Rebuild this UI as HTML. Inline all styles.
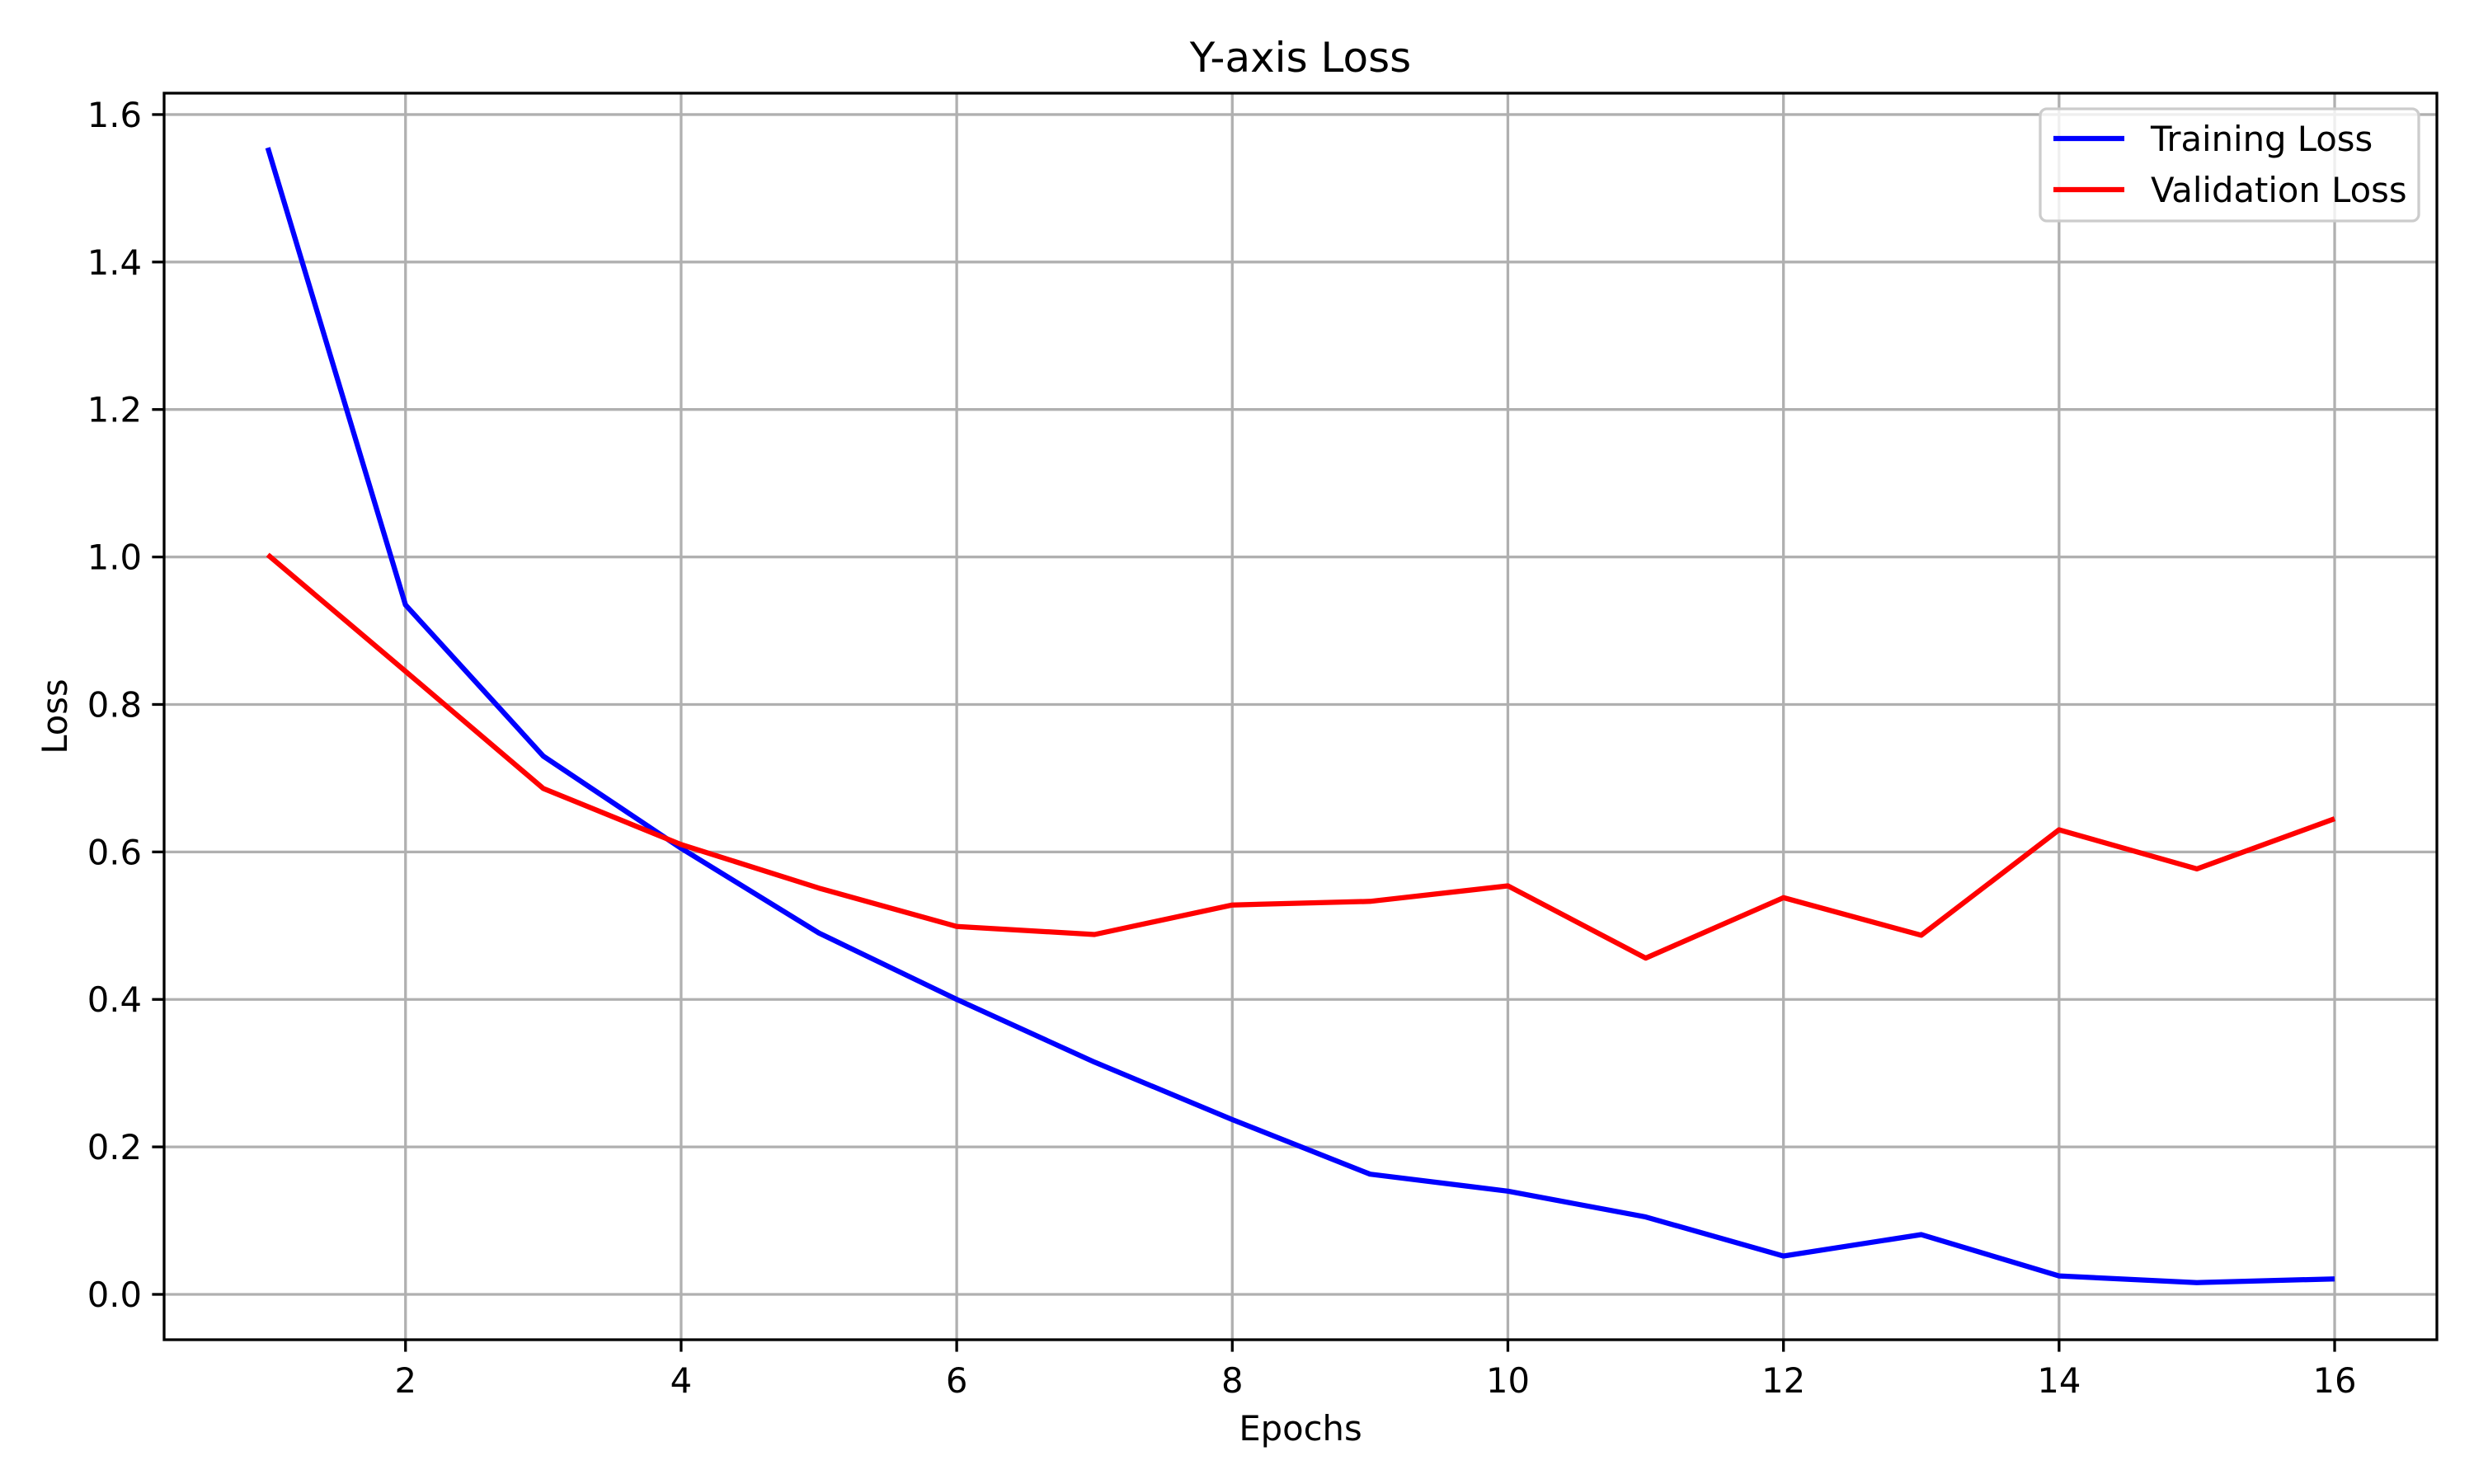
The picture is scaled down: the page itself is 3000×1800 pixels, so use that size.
<!DOCTYPE html>
<html><head><meta charset="utf-8"><style>
html,body{margin:0;padding:0;background:#fff}
svg{display:block}
text{font-family:"DejaVu Sans","Liberation Sans",sans-serif;fill:#000}
</style></head><body>
<svg id="chart" width="3000" height="1800" viewBox="0 0 3000 1800" xmlns="http://www.w3.org/2000/svg">
<rect width="3000" height="1800" fill="#fff"/>
<g id="grid"></g>
<g id="series"></g>
<rect x="199" y="113" width="2756" height="1512" fill="none" stroke="#000" stroke-width="3.3"/>
<g id="ticks"></g>
<text x="1577" y="87" font-size="50" text-anchor="middle">Y-axis Loss</text>
<text x="1577" y="1747" font-size="41.7" text-anchor="middle">Epochs</text>
<text x="0" y="0" font-size="41.7" text-anchor="middle" transform="translate(81,869) rotate(-90)">Loss</text>
<g>
<rect x="2474" y="132" width="459" height="136" rx="8" fill="#fff" fill-opacity="0.8" stroke="#ccc" stroke-width="3.3"/>
<line x1="2490" y1="168" x2="2576" y2="168" stroke="#0000ff" stroke-width="6.25"/>
<text x="2608" y="183" font-size="41.7">Training Loss</text>
<line x1="2490" y1="230" x2="2576" y2="230" stroke="#ff0000" stroke-width="6.25"/>
<text x="2608" y="245" font-size="41.7">Validation Loss</text>
</g>
</svg>
<script>
const epochs = [1,2,3,4,5,6,7,8,9,10,11,12,13,14,15,16];
const trainingLoss = [1.555,0.935,0.73,0.605,0.49,0.40,0.315,0.237,0.163,0.140,0.105,0.052,0.081,0.025,0.016,0.021];
const validationLoss = [1.003,0.845,0.686,0.61,0.551,0.499,0.488,0.528,0.533,0.554,0.456,0.538,0.487,0.630,0.577,0.645];
const xTicks = [2,4,6,8,10,12,14,16];
const yTicks = [0.0,0.2,0.4,0.6,0.8,1.0,1.2,1.4,1.6];

const L=199,R=2955,T=113,B=1625;
const xMin=0.248,xMax=16.742,yMin=-0.0615,yMax=1.629;
function sx(v){return L+(v-xMin)/(xMax-xMin)*(R-L);}
function sy(v){return B-(v-yMin)/(yMax-yMin)*(B-T);}
const NS="http://www.w3.org/2000/svg";
const grid=document.getElementById('grid'),ticks=document.getElementById('ticks'),series=document.getElementById('series');
function mk(tag,attrs,parent){const e=document.createElementNS(NS,tag);for(const k in attrs)e.setAttribute(k,attrs[k]);parent.appendChild(e);return e;}
xTicks.forEach(v=>{
  const x=sx(v);
  const g=mk('line',{x1:x,y1:T,x2:x,y2:B,stroke:'#b0b0b0','stroke-width':3.3},grid);
  
  
  const t=mk('line',{x1:x,y1:B,x2:x,y2:B+14.6,stroke:'#000','stroke-width':3.3},ticks);
  
  
  const l=mk('text',{x:x,y:1689,'font-size':41.7,'text-anchor':'middle'},ticks);
  l.textContent=String(v);
  
  
});
yTicks.forEach(v=>{
  const y=sy(v);
  const g=mk('line',{x1:L,y1:y,x2:R,y2:y,stroke:'#b0b0b0','stroke-width':3.3},grid);
  
  
  const t=mk('line',{x1:L-14.6,y1:y,x2:L,y2:y,stroke:'#000','stroke-width':3.3},ticks);
  
  
  const l=mk('text',{x:L-27,y:y+15,'font-size':41.7,'text-anchor':'end'},ticks);
  l.textContent=v.toFixed(1);
  
  
});
function line(vals,color,name){
  const pts=vals.map((v,i)=>sx(epochs[i]).toFixed(1)+','+sy(v).toFixed(1)).join(' ');
  const p=mk('polyline',{points:pts,fill:'none',stroke:color,'stroke-width':6.25,'stroke-linejoin':'round'},series);
  
  
}
line(trainingLoss,'#0000ff','training-loss-line');
line(validationLoss,'#ff0000','validation-loss-line');
</script>
</body></html>
